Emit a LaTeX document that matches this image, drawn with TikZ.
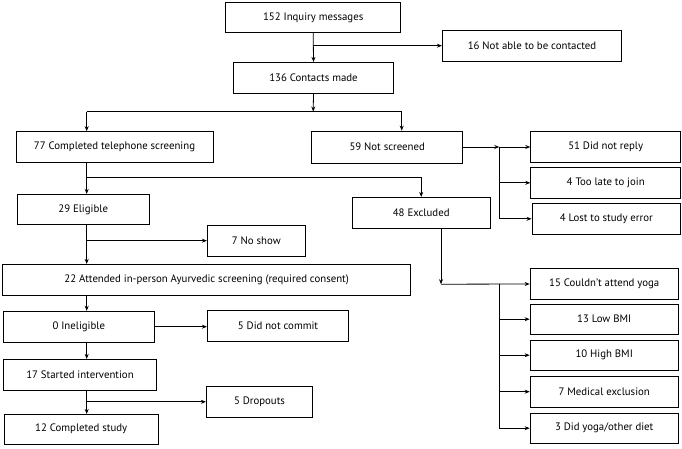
\documentclass[tikz,border=0pt]{standalone}
\usepackage{fontspec}
\setmainfont{PT Sans}
\usetikzlibrary{arrows.meta}
\tikzset{
  box/.style={draw=black, line width=0.8pt, inner sep=0pt, minimum height=31, font=\fontsize{10.8}{12}\selectfont},
  flow/.style={line width=0.8pt, -{Stealth[length=5pt,width=4pt]}},
  link/.style={line width=0.8pt}
}

\begin{document}
\begin{tikzpicture}[x=1pt,y=-1pt]
\useasboundingbox (0,0) rectangle (682,448);
% left column and top
\node[box, minimum width=175, minimum height=29.6] (inq) at (313.2,17.5) {152 Inquiry messages};
\node[box, minimum width=179.4] (nc) at (532,45.7) {16 Not able to be contacted};
\node[box, minimum width=159.6] (cm) at (313.5,77.8) {136 Contacts made};
\node[box, minimum width=197] (tel) at (114.5,147.1) {77 Completed telephone screening};
\node[box, minimum width=151, minimum height=32] (ns) at (387.2,147) {59 Not screened};
\node[box, minimum width=131.7, minimum height=30] (elig) at (83.2,209.3) {29 Eligible};
\node[box, minimum width=137.7] (ex) at (421.2,212.8) {48 Excluded};
\node[box, minimum width=98, minimum height=30.7] (nosh) at (256.3,240.7) {7 No show};
\node[box, minimum width=408] (att) at (206.7,279.8) {22 Attended in-person Ayurvedic screening (required consent)};
\node[box, minimum width=151] (inel) at (78.8,326.7) {0 Ineligible};
\node[box, minimum width=141.4] (dnc) at (278,325.8) {5 Did not commit};
\node[box, minimum width=153.4] (start) at (80,374.8) {17 Started intervention};
\node[box, minimum width=106.4] (drop) at (259.5,401.8) {5 Dropouts};
\node[box, minimum width=153.7, minimum height=29.7] (comp) at (81.2,429.2) {12 Completed study};
% right column
\node[box, minimum width=150, minimum height=30.6] (dnr) at (605.7,147) {51 Did not reply};
\node[box, minimum width=150] (late) at (605.7,182.8) {4 Too late to join};
\node[box, minimum width=148.7] (lost) at (606.3,218.8) {4 Lost to study error};
\node[box, minimum width=148.3, minimum height=30.6] (rya) at (604.2,284) {15 Couldn’t attend yoga};
\node[box, minimum width=148.3, minimum height=29.7] (rlo) at (604.2,319.2) {13 Low BMI};
\node[box, minimum width=148.3, minimum height=29.7] (rhi) at (604.2,355.2) {10 High BMI};
\node[box, minimum width=148.3, minimum height=30.7] (rme) at (604.2,391.7) {7 Medical exclusion};
\node[box, minimum width=148.3, minimum height=30.3] (ryo) at (604.2,428.2) {3 Did yoga/other diet};
% junctions
\coordinate (lx) at (86.7,0);
\coordinate (nx) at (401.7,0);
\coordinate (ev) at (441,0);
\coordinate (j1) at (313.2,111.5);
\coordinate (j2) at (0,177.7);
\coordinate (j3) at (499.3,147);
\coordinate (j4) at (441,284.2);
% connectors
\draw[flow] (inq.south) -- (cm.north);
\draw[flow] (inq.south |- nc.west) -- (nc.west);
\draw[flow] (cm.south) -- (j1);
\draw[link] (lx |- j1) -- (nx |- j1);
\draw[flow] (lx |- j1) -- (tel.north -| lx);
\draw[flow] (nx |- j1) -- (ns.north -| nx);
\draw[flow] (tel.south -| lx) -- (elig.north -| lx);
\draw[flow] (lx |- j2) -- (ex.north |- j2) -- (ex.north);
\draw[flow] (elig.south -| lx) -- (att.north -| lx);
\draw[flow] (lx |- nosh.west) -- (nosh.west);
\draw[flow] (att.south -| lx) -- (inel.north -| lx);
\draw[flow] (inel.east) -- (inel.east -| dnc.west);
\draw[flow] (inel.south -| lx) -- (start.north -| lx);
\draw[flow] (start.south -| lx) -- (comp.north -| lx);
\draw[flow] (lx |- drop.west) -- (drop.west);
\draw[flow] (ns.east) -- (j3);
\draw[link] (j3) -- (j3 |- lost.west);
\draw[flow] (j3) -- (dnr.west);
\draw[flow] (j3 |- late.west) -- (late.west);
\draw[flow] (j3 |- lost.west) -- (lost.west);
\draw[flow] (ex.south -| ev) -- (j4);
\draw[flow] (j4) -- (rya.west);
\draw[link] (j3 |- j4) -- (j3 |- ryo.west);
\foreach \n in {rlo,rhi,rme,ryo}
  \draw[flow] (j3 |- \n.west) -- (\n.west);
\end{tikzpicture}
\end{document}
